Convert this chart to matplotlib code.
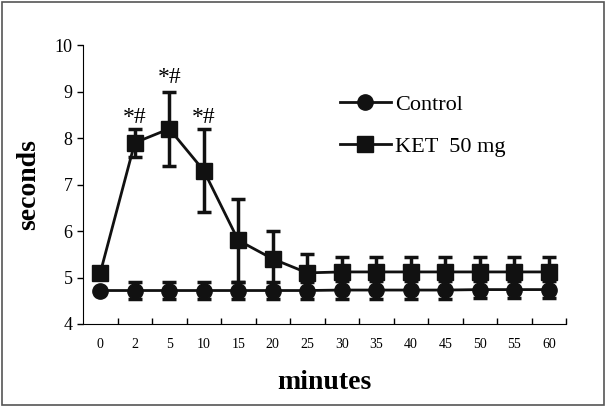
import numpy as np
import matplotlib.pyplot as plt
from matplotlib.lines import Line2D
from matplotlib.patches import Rectangle

plt.rcParams['font.family'] = ['Liberation Serif', 'DejaVu Serif']

minutes = ['0', '2', '5', '10', '15', '20', '25', '30', '35', '40', '45', '50', '55', '60']
control = [4.72, 4.72, 4.72, 4.72, 4.72, 4.72, 4.72, 4.73, 4.73, 4.73, 4.73, 4.74, 4.74, 4.74]
control_err = [0, 0.19, 0.19, 0.19, 0.19, 0.19, 0.19, 0.19, 0.19, 0.19, 0.19, 0.19, 0.19, 0.19]
ket = [5.1, 7.9, 8.2, 7.3, 5.8, 5.4, 5.1, 5.12, 5.12, 5.12, 5.12, 5.12, 5.12, 5.12]
ket_err = [0, 0.3, 0.8, 0.9, 0.9, 0.6, 0.4, 0.32, 0.32, 0.32, 0.32, 0.32, 0.32, 0.32]
sig_idx = [1, 2, 3]
sig_y = [8.45, 9.3, 8.45]

x = np.arange(len(minutes))
col = '#111111'

fig = plt.figure(figsize=(6.06, 4.07), dpi=100)
ax = fig.add_axes([0.137, 0.204, 0.797, 0.685])

ax.errorbar(x, control, yerr=control_err, color=col, marker='o', ms=11,
            lw=2, elinewidth=2.5, capsize=5, capthick=2.5, zorder=3)
ax.errorbar(x, ket, yerr=[np.zeros(len(ket)), ket_err], color=col, marker='s', ms=11,
            lw=2, elinewidth=2.5, capsize=5, capthick=2.5, zorder=3)
ax.errorbar(x[:7], ket[:7], yerr=[ket_err[:7], np.zeros(7)], fmt='none', ecolor=col,
            elinewidth=2.5, capsize=5, capthick=2.5, zorder=3)

for i, yv in zip(sig_idx, sig_y):
    ax.text(x[i], yv, '*#', ha='center', va='center', fontsize=17)

ax.set_xlim(-0.5, len(minutes) - 0.5)
ax.set_ylim(4, 10)
ax.set_yticks(range(4, 11))
ax.tick_params(axis='y', labelsize=13, length=4, width=1)
ax.set_xticks(x)
ax.set_xticklabels(minutes, fontsize=10)
ax.set_xticks(np.arange(0.5, len(minutes), 1), minor=True)
ax.tick_params(axis='x', which='major', length=0, pad=10)
ax.tick_params(axis='x', which='minor', length=4, width=1, direction='in')
ax.spines['top'].set_visible(False)
ax.spines['right'].set_visible(False)

ax.set_xlabel('minutes', fontsize=20, fontweight='bold', labelpad=14)
ax.set_ylabel('seconds', fontsize=20, fontweight='bold', labelpad=10)

handles = [Line2D([], [], color=col, lw=2, marker='o', ms=11),
           Line2D([], [], color=col, lw=2, marker='s', ms=11)]
ax.legend(handles, ['Control', 'KET  50 mg'], loc='upper left', bbox_to_anchor=(0.49, 0.895),
          frameon=False, fontsize=16, handlelength=2.3, handletextpad=0.2, labelspacing=0.97)

fig.patches.append(Rectangle((0.003, 0.004), 0.993, 0.99, transform=fig.transFigure,
                             fill=False, edgecolor='#555555', lw=1.2))

fig.savefig('out.png', dpi=100)
